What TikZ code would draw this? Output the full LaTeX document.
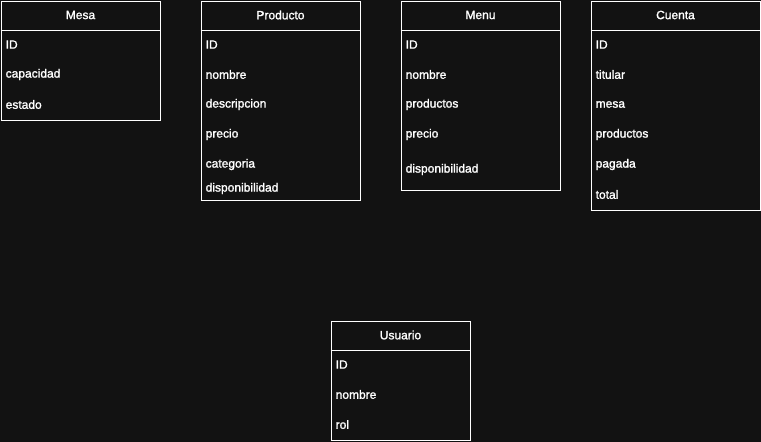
\documentclass[tikz,border=0pt]{standalone}
\usepackage{fontspec}
\newfontfamily\tablefont{Liberation Sans}[BoldFont=Liberation Sans, BoldFeatures={FakeBold=1.5}]
\usepackage{tikz}
\usetikzlibrary{positioning}

\definecolor{bgdark}{HTML}{121212}

\begin{document}
\begin{tikzpicture}[
        x=1pt, y=1pt,
        tablebox/.style={draw=white, line width=1pt, fill=bgdark, inner sep=0pt, anchor=north west},
        titletext/.style={text=white, font=\tablefont\bfseries\fontsize{12}{14}\selectfont, inner sep=0pt},
        fieldtext/.style={text=white, font=\tablefont\bfseries\fontsize{12}{14}\selectfont, inner sep=0pt, anchor=west},
        headline/.style={draw=white, line width=1pt}
      ]
        \fill[bgdark] (0,0) rectangle (761,-442);
        \useasboundingbox (0,0) rectangle (761,-442);

        % Mesa
        \node[tablebox, minimum width=159pt, minimum height=119pt] (mesa) at (0.5,-0.5) {};
        \draw[headline] ([yshift=-30pt]mesa.north west) -- ([yshift=-30pt]mesa.north east);
        \node[titletext] (mesa-title) at ([yshift=-14.5pt]mesa.north) {Mesa};
        \foreach \f/\y in {ID/44, capacidad/74, estado/104}
          \node[fieldtext] at ([xshift=5pt, yshift=-\y pt]mesa.north west) {\f};

        % Producto
        \node[tablebox, minimum width=159pt, minimum height=199pt] (producto) at (200.5,-0.5) {};
        \draw[headline] ([yshift=-30pt]producto.north west) -- ([yshift=-30pt]producto.north east);
        \node[titletext] (producto-title) at ([yshift=-14.5pt]producto.north) {Producto};
        \foreach \f/\y in {ID/44, nombre/74, descripcion/104, precio/134, categoria/164, disponibilidad/188}
          \node[fieldtext] at ([xshift=5pt, yshift=-\y pt]producto.north west) {\f};

        % Menu
        \node[tablebox, minimum width=159pt, minimum height=189pt] (menu) at (400.5,-0.5) {};
        \draw[headline] ([yshift=-30pt]menu.north west) -- ([yshift=-30pt]menu.north east);
        \node[titletext] (menu-title) at ([yshift=-14.5pt]menu.north) {Menu};
        \foreach \f/\y in {ID/44, nombre/74, productos/104, precio/134, disponibilidad/169}
          \node[fieldtext] at ([xshift=5pt, yshift=-\y pt]menu.north west) {\f};

        % Cuenta
        \node[tablebox, minimum width=169pt, minimum height=209pt] (cuenta) at (590.5,-0.5) {};
        \draw[headline] ([yshift=-30pt]cuenta.north west) -- ([yshift=-30pt]cuenta.north east);
        \node[titletext] (cuenta-title) at ([yshift=-14.5pt]cuenta.north) {Cuenta};
        \foreach \f/\y in {ID/44, titular/74, mesa/104, productos/134, pagada/164, total/194}
          \node[fieldtext] at ([xshift=5pt, yshift=-\y pt]cuenta.north west) {\f};

        % Usuario
        \node[tablebox, minimum width=139pt, minimum height=119pt] (usuario) at (330.5,-320.5) {};
        \draw[headline] ([yshift=-30pt]usuario.north west) -- ([yshift=-30pt]usuario.north east);
        \node[titletext] (usuario-title) at ([yshift=-14.5pt]usuario.north) {Usuario};
        \foreach \f/\y in {ID/44, nombre/74, rol/104}
          \node[fieldtext] at ([xshift=5pt, yshift=-\y pt]usuario.north west) {\f};
      \end{tikzpicture}
\end{document}
